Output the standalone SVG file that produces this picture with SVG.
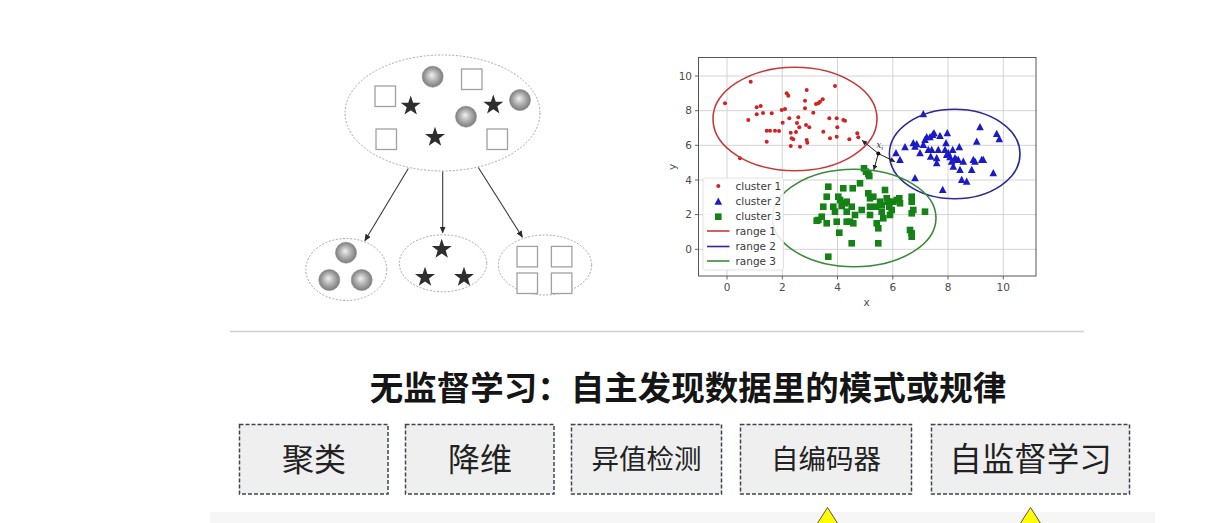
<svg xmlns="http://www.w3.org/2000/svg" width="1222" height="523" viewBox="0 0 1222 523">
<defs>
<style>
.cl{fill:none;stroke:#a8a8a8;stroke-width:1;stroke-dasharray:2,1.6}
.sq{fill:#fff;stroke:#a0a0a0;stroke-width:1.3}
.st{fill:#2e2e2e}
.sp{fill:url(#sph);stroke:#8a8a8a;stroke-width:0.6}
.ar{fill:none;stroke:#3a3a3a;stroke-width:1.1;marker-end:url(#ah)}
.grid{stroke:#cfcfcf;stroke-width:0.9}
.tk{font-family:"DejaVu Sans","Liberation Sans",sans-serif;font-size:10.5px;fill:#4a4a4a}
.lg{font-family:"DejaVu Sans","Liberation Sans",sans-serif;font-size:10.5px;fill:#3a3a3a}
.r{fill:#d42020}
.b{fill:#1a1ac8}
.g{fill:#148214}
.box{fill:#efefef;stroke:#3f4450;stroke-width:1.5;stroke-dasharray:4,2}
.bt{font-family:"Noto Sans CJK SC",sans-serif;fill:#222;text-anchor:middle}
.tri{fill:#ffff00;stroke:#555;stroke-width:1}
</style>
<radialGradient id="sph" cx="0.5" cy="0.5" r="0.55" fx="0.45" fy="0.42">
<stop offset="0" stop-color="#f0f0f0"/>
<stop offset="0.55" stop-color="#a8a8a8"/>
<stop offset="1" stop-color="#727272"/>
</radialGradient>
<marker id="ah" markerWidth="8" markerHeight="8" refX="6" refY="3" orient="auto" markerUnits="userSpaceOnUse">
<path d="M0,0 L7,3 L0,6 Z" fill="#2a2a2a"/>
</marker>
<marker id="ah2" markerWidth="6" markerHeight="6" refX="5" refY="2.5" orient="auto" markerUnits="userSpaceOnUse">
<path d="M0,0 L5,2.5 L0,5 Z" fill="#222"/>
</marker>
<path id="star" d="M0,-10.5 L2.45,-3.35 L10,-3.25 L4,1.25 L6.2,8.5 L0,4.2 L-6.2,8.5 L-4,1.25 L-10,-3.25 L-2.45,-3.35 Z"/>
<circle id="ball" r="10.5"/>
<path id="tr" d="M0,-4.2 L3.8,3 L-3.8,3 Z"/>
<rect id="gs" x="-3.3" y="-3.3" width="6.6" height="6.6"/>
<clipPath id="pc"><rect x="698.5" y="57.5" width="337.5" height="218.5"/></clipPath>
</defs>
<rect width="1222" height="523" fill="#ffffff"/>

<!-- Left clustering illustration -->
<g id="all-data">
<ellipse class="cl" cx="442.5" cy="113" rx="97.5" ry="58"/>
<use href="#ball" class="sp" x="432.7" y="76.7"/>
<rect class="sq" x="461.5" y="69" width="20.5" height="20.5"/>
<rect class="sq" x="375" y="86" width="20.5" height="20.5"/>
<use href="#star" class="st" x="410.7" y="106"/>
<use href="#ball" class="sp" x="520" y="100"/>
<use href="#star" class="st" x="493.3" y="105"/>
<use href="#ball" class="sp" x="466" y="116.7"/>
<rect class="sq" x="376" y="129" width="20.5" height="20.5"/>
<use href="#star" class="st" x="435" y="137.3"/>
<rect class="sq" x="487" y="129" width="20.5" height="20.5"/>
</g>
<g id="cluster-balls">
<ellipse class="cl" cx="346.3" cy="269.5" rx="40.5" ry="31"/>
<use href="#ball" class="sp" x="346" y="252.7"/>
<use href="#ball" class="sp" x="329.3" y="280"/>
<use href="#ball" class="sp" x="361.7" y="280"/>
</g>
<g id="cluster-stars">
<ellipse class="cl" cx="443" cy="263.3" rx="43.7" ry="28.5"/>
<use href="#star" class="st" x="441.7" y="249.3"/>
<use href="#star" class="st" x="425" y="277.3"/>
<use href="#star" class="st" x="464" y="277.3"/>
</g>
<g id="cluster-squares">
<ellipse class="cl" cx="545" cy="265" rx="46.7" ry="30"/>
<rect class="sq" x="517" y="246.4" width="20.5" height="20.5"/>
<rect class="sq" x="551.4" y="246.4" width="20.5" height="20.5"/>
<rect class="sq" x="517" y="273" width="20.5" height="20.5"/>
<rect class="sq" x="551.4" y="273" width="20.5" height="20.5"/>
</g>
<g id="connectors">
<line class="ar" x1="408.3" y1="168.5" x2="365" y2="240.5"/>
<line class="ar" x1="442.7" y1="171.5" x2="442.7" y2="232.5"/>
<line class="ar" x1="478.3" y1="167.5" x2="522.3" y2="237"/>
</g>

<!-- Scatter plot -->
<g id="scatter-plot">
<rect x="698.5" y="57.5" width="337.5" height="218.5" fill="#fff"/>
<g class="grid">
<line x1="727" y1="57.5" x2="727" y2="276"/>
<line x1="782.3" y1="57.5" x2="782.3" y2="276"/>
<line x1="837.5" y1="57.5" x2="837.5" y2="276"/>
<line x1="892.8" y1="57.5" x2="892.8" y2="276"/>
<line x1="948" y1="57.5" x2="948" y2="276"/>
<line x1="1003.3" y1="57.5" x2="1003.3" y2="276"/>
<line x1="698.5" y1="249.3" x2="1036" y2="249.3"/>
<line x1="698.5" y1="214.6" x2="1036" y2="214.6"/>
<line x1="698.5" y1="180" x2="1036" y2="180"/>
<line x1="698.5" y1="145.3" x2="1036" y2="145.3"/>
<line x1="698.5" y1="110.7" x2="1036" y2="110.7"/>
<line x1="698.5" y1="76" x2="1036" y2="76"/>
</g>
<g clip-path="url(#pc)">
<g class="r">
<circle r="2" cx="725" cy="103.3"/><circle r="2" cx="750.7" cy="81.7"/><circle r="2" cx="756.7" cy="107.3"/><circle r="2" cx="756.7" cy="114.3"/><circle r="2" cx="760.7" cy="106"/><circle r="2" cx="748.3" cy="120"/><circle r="2" cx="740" cy="158.3"/><circle r="2" cx="771.7" cy="113.3"/><circle r="2" cx="766.7" cy="130.7"/><circle r="2" cx="770" cy="130.7"/><circle r="2" cx="775" cy="130.7"/><circle r="2" cx="766.7" cy="141.7"/><circle r="2" cx="781.7" cy="110"/><circle r="2" cx="785" cy="109"/><circle r="2" cx="782.7" cy="122.7"/><circle r="2" cx="786.7" cy="93.3"/><circle r="2" cx="788.3" cy="95.7"/><circle r="2" cx="789.3" cy="118.3"/><circle r="2" cx="790.7" cy="132.7"/><circle r="2" cx="791.7" cy="138.3"/><circle r="2" cx="790.7" cy="146"/><circle r="2" cx="793.3" cy="139.3"/><circle r="2" cx="796" cy="132"/><circle r="2" cx="798.3" cy="117.3"/><circle r="2" cx="799.3" cy="127.3"/><circle r="2" cx="800" cy="146.7"/><circle r="2" cx="805" cy="108.3"/><circle r="2" cx="805" cy="100.7"/><circle r="2" cx="806.7" cy="90"/><circle r="2" cx="806" cy="125"/><circle r="2" cx="806.7" cy="140"/><circle r="2" cx="807.3" cy="142.7"/><circle r="2" cx="809.3" cy="127.3"/><circle r="2" cx="813.3" cy="112.7"/><circle r="2" cx="816" cy="104"/><circle r="2" cx="818.3" cy="103.3"/><circle r="2" cx="820" cy="101.7"/><circle r="2" cx="822.7" cy="99.3"/><circle r="2" cx="823.3" cy="131.7"/><circle r="2" cx="829.3" cy="118.3"/><circle r="2" cx="830" cy="138.3"/><circle r="2" cx="835" cy="86"/><circle r="2" cx="836.7" cy="118.3"/><circle r="2" cx="837.3" cy="127.3"/><circle r="2" cx="836.7" cy="136.7"/><circle r="2" cx="843.3" cy="120"/><circle r="2" cx="845" cy="120.7"/><circle r="2" cx="849.3" cy="139.3"/><circle r="2" cx="857.3" cy="133.3"/><circle r="2" cx="858.3" cy="137.3"/><circle r="2" cx="763" cy="113"/><circle r="2" cx="779" cy="131"/><circle r="2" cx="797" cy="123"/>
</g>
<g class="b">
<use href="#tr" x="923.3" y="114.3"/><use href="#tr" x="896" y="153.3"/><use href="#tr" x="900" y="160"/><use href="#tr" x="905" y="147.3"/><use href="#tr" x="913.3" y="143.3"/><use href="#tr" x="915" y="146.7"/><use href="#tr" x="916.7" y="144.3"/><use href="#tr" x="920" y="153.3"/><use href="#tr" x="923.3" y="145"/><use href="#tr" x="925" y="140"/><use href="#tr" x="926.7" y="137.3"/><use href="#tr" x="928.3" y="150"/><use href="#tr" x="930" y="137.3"/><use href="#tr" x="932.7" y="135"/><use href="#tr" x="934" y="133.3"/><use href="#tr" x="936.7" y="158.3"/><use href="#tr" x="936.7" y="163.3"/><use href="#tr" x="938.3" y="150"/><use href="#tr" x="940" y="136"/><use href="#tr" x="942.7" y="190"/><use href="#tr" x="946" y="143.3"/><use href="#tr" x="947.3" y="133.3"/><use href="#tr" x="948.3" y="153.3"/><use href="#tr" x="950" y="157.3"/><use href="#tr" x="951.7" y="161.7"/><use href="#tr" x="953.3" y="166.7"/><use href="#tr" x="955" y="158.3"/><use href="#tr" x="956.7" y="160"/><use href="#tr" x="958.3" y="160"/><use href="#tr" x="960" y="170"/><use href="#tr" x="959.3" y="147.3"/><use href="#tr" x="961.7" y="180"/><use href="#tr" x="963.3" y="161.7"/><use href="#tr" x="966.7" y="181.7"/><use href="#tr" x="971.7" y="170"/><use href="#tr" x="973.3" y="160"/><use href="#tr" x="975" y="161.7"/><use href="#tr" x="976.7" y="141.7"/><use href="#tr" x="980" y="127.3"/><use href="#tr" x="981.7" y="160"/><use href="#tr" x="983.3" y="160"/><use href="#tr" x="996.7" y="134"/><use href="#tr" x="999.3" y="139.3"/><use href="#tr" x="993.3" y="173.3"/><use href="#tr" x="915" y="178.3"/><use href="#tr" x="946.7" y="155"/><use href="#tr" x="952.7" y="150"/><use href="#tr" x="945" y="150"/><use href="#tr" x="931.7" y="150"/><use href="#tr" x="930.7" y="156.7"/>
</g>
<g class="g">
<use href="#gs" x="864" y="168.3"/><use href="#gs" x="866" y="171.7"/><use href="#gs" x="868.3" y="174"/><use href="#gs" x="869.3" y="176"/><use href="#gs" x="860" y="183.3"/><use href="#gs" x="852.7" y="188.3"/><use href="#gs" x="843.3" y="188.3"/><use href="#gs" x="838.3" y="196.7"/><use href="#gs" x="828.3" y="186.7"/><use href="#gs" x="826.7" y="196.7"/><use href="#gs" x="823.3" y="206.7"/><use href="#gs" x="821.7" y="216.7"/><use href="#gs" x="818.3" y="220"/><use href="#gs" x="816.7" y="220.7"/><use href="#gs" x="826.7" y="223.3"/><use href="#gs" x="833.3" y="206.7"/><use href="#gs" x="835" y="211.7"/><use href="#gs" x="836.7" y="221.7"/><use href="#gs" x="841.7" y="206"/><use href="#gs" x="845" y="203.3"/><use href="#gs" x="846.7" y="201.7"/><use href="#gs" x="846.7" y="211.7"/><use href="#gs" x="846.7" y="221.7"/><use href="#gs" x="839.3" y="232.7"/><use href="#gs" x="851.7" y="243.3"/><use href="#gs" x="855" y="215"/><use href="#gs" x="861.7" y="210"/><use href="#gs" x="868.3" y="193.3"/><use href="#gs" x="870" y="198.3"/><use href="#gs" x="870" y="206.7"/><use href="#gs" x="873.3" y="196.7"/><use href="#gs" x="876" y="206.7"/><use href="#gs" x="876.7" y="223.3"/><use href="#gs" x="878.3" y="228.3"/><use href="#gs" x="880" y="201.7"/><use href="#gs" x="881.7" y="205"/><use href="#gs" x="881.7" y="211.7"/><use href="#gs" x="885" y="190"/><use href="#gs" x="886.7" y="198.3"/><use href="#gs" x="888.3" y="201.7"/><use href="#gs" x="889.3" y="206.7"/><use href="#gs" x="890" y="215"/><use href="#gs" x="891.7" y="210"/><use href="#gs" x="893.3" y="201.7"/><use href="#gs" x="896.7" y="200"/><use href="#gs" x="899.3" y="198.3"/><use href="#gs" x="900" y="203.3"/><use href="#gs" x="911.7" y="196.7"/><use href="#gs" x="911.7" y="201.7"/><use href="#gs" x="913.3" y="210"/><use href="#gs" x="911.7" y="213.3"/><use href="#gs" x="925" y="211.7"/><use href="#gs" x="910" y="230"/><use href="#gs" x="911.7" y="233.3"/><use href="#gs" x="911.7" y="236.7"/><use href="#gs" x="828.3" y="256.7"/><use href="#gs" x="878.3" y="243.3"/><use href="#gs" x="870" y="215"/><use href="#gs" x="883.3" y="218.3"/><use href="#gs" x="853.3" y="223.3"/><use href="#gs" x="850" y="221.7"/><use href="#gs" x="851.7" y="206.7"/><use href="#gs" x="840" y="200"/>
</g>
<ellipse cx="795" cy="119" rx="82" ry="51.7" fill="none" stroke="#c83a3a" stroke-width="1.6"/>
<ellipse cx="954.7" cy="154" rx="65.3" ry="44.7" fill="none" stroke="#2a2a9a" stroke-width="1.6"/>
<ellipse cx="854.3" cy="218" rx="81.7" ry="48.7" fill="none" stroke="#3a8a3a" stroke-width="1.6"/>
<g fill="none" stroke="#222" stroke-width="1" marker-end="url(#ah2)">
<line x1="878.3" y1="153.5" x2="862" y2="140.3"/>
<line x1="878.3" y1="153.5" x2="895" y2="161.7"/>
<line x1="878.3" y1="153.5" x2="873.8" y2="170"/>
</g>
<circle cx="878.3" cy="153.5" r="2" fill="#111"/>
<text x="876.5" y="148" font-family="DejaVu Serif,serif" font-size="8.5" font-style="italic" fill="#333">x<tspan font-size="6" dy="1.5">i</tspan></text>
</g>
<!-- legend -->
<rect x="703" y="178" width="80.5" height="92" rx="2" fill="#ffffff" fill-opacity="0.85" stroke="#dcdcdc" stroke-width="0.8"/>
<circle cx="718.3" cy="186" r="2" class="r"/>
<use href="#tr" class="b" x="718.3" y="201.7"/>
<use href="#gs" class="g" x="718.3" y="216.7"/>
<line x1="707" y1="231" x2="729.5" y2="231" stroke="#c83a3a" stroke-width="1.6"/>
<line x1="707" y1="246.5" x2="729.5" y2="246.5" stroke="#2a2a9a" stroke-width="1.6"/>
<line x1="707" y1="261" x2="729.5" y2="261" stroke="#3a8a3a" stroke-width="1.6"/>
<text class="lg" x="735.5" y="189.7">cluster 1</text>
<text class="lg" x="735.5" y="205.4">cluster 2</text>
<text class="lg" x="735.5" y="220.4">cluster 3</text>
<text class="lg" x="735.5" y="234.7">range 1</text>
<text class="lg" x="735.5" y="250.4">range 2</text>
<text class="lg" x="735.5" y="264.7">range 3</text>
<rect x="698.5" y="57.5" width="337.5" height="218.5" fill="none" stroke="#555" stroke-width="1"/>
<g stroke="#555" stroke-width="0.9">
<line x1="727" y1="276" x2="727" y2="279.5"/><line x1="782.3" y1="276" x2="782.3" y2="279.5"/><line x1="837.5" y1="276" x2="837.5" y2="279.5"/><line x1="892.8" y1="276" x2="892.8" y2="279.5"/><line x1="948" y1="276" x2="948" y2="279.5"/><line x1="1003.3" y1="276" x2="1003.3" y2="279.5"/>
<line x1="695" y1="249.3" x2="698.5" y2="249.3"/><line x1="695" y1="214.6" x2="698.5" y2="214.6"/><line x1="695" y1="180" x2="698.5" y2="180"/><line x1="695" y1="145.3" x2="698.5" y2="145.3"/><line x1="695" y1="110.7" x2="698.5" y2="110.7"/><line x1="695" y1="76" x2="698.5" y2="76"/>
</g>
<g class="tk" text-anchor="middle">
<text x="727" y="290.5">0</text><text x="782.3" y="290.5">2</text><text x="837.5" y="290.5">4</text><text x="892.8" y="290.5">6</text><text x="948" y="290.5">8</text><text x="1003.3" y="290.5">10</text>
<text x="866.5" y="306">x</text>
</g>
<g class="tk" text-anchor="end">
<text x="692" y="253">0</text><text x="692" y="218.3">2</text><text x="692" y="183.7">4</text><text x="692" y="149">6</text><text x="692" y="114.4">8</text><text x="692" y="79.7">10</text>
</g>
<text class="tk" x="0" y="0" text-anchor="middle" transform="translate(676,167) rotate(-90)">y</text>
</g>

<line x1="230" y1="331.5" x2="1084" y2="331.5" stroke="#d0d0d6" stroke-width="1.6"/>

<text id="title" x="688" y="399.5" font-family="Noto Sans CJK SC,sans-serif" font-size="33.5" font-weight="bold" fill="#151515" text-anchor="middle">无监督学习：自主发现数据里的模式或规律</text>

<g id="box-clustering">
<rect class="box" x="239.5" y="424.5" width="148.5" height="69.5"/>
<text class="bt" x="314" y="470.5" font-size="32">聚类</text>
</g>
<g id="box-dimred">
<rect class="box" x="405.5" y="424.5" width="148.5" height="69.5"/>
<text class="bt" x="480" y="470.5" font-size="32">降维</text>
</g>
<g id="box-anomaly">
<rect class="box" x="571.5" y="424.5" width="150" height="69.5"/>
<text class="bt" x="646.5" y="469" font-size="27.5">异值检测</text>
</g>
<g id="box-autoencoder">
<rect class="box" x="740.5" y="424.5" width="171" height="69.5"/>
<text class="bt" x="826" y="469" font-size="27.5">自编码器</text>
</g>
<g id="box-selfsup">
<rect class="box" x="931.5" y="424.5" width="198" height="69.5"/>
<text class="bt" x="1030.5" y="471" font-size="32.5">自监督学习</text>
</g>

<rect x="210" y="512" width="945" height="11" fill="#f6f6f6"/>
<polygon class="tri" points="827.5,507.5 817,524 838,524"/>
<polygon class="tri" points="1030.5,507.5 1020,524 1041,524"/>
</svg>
